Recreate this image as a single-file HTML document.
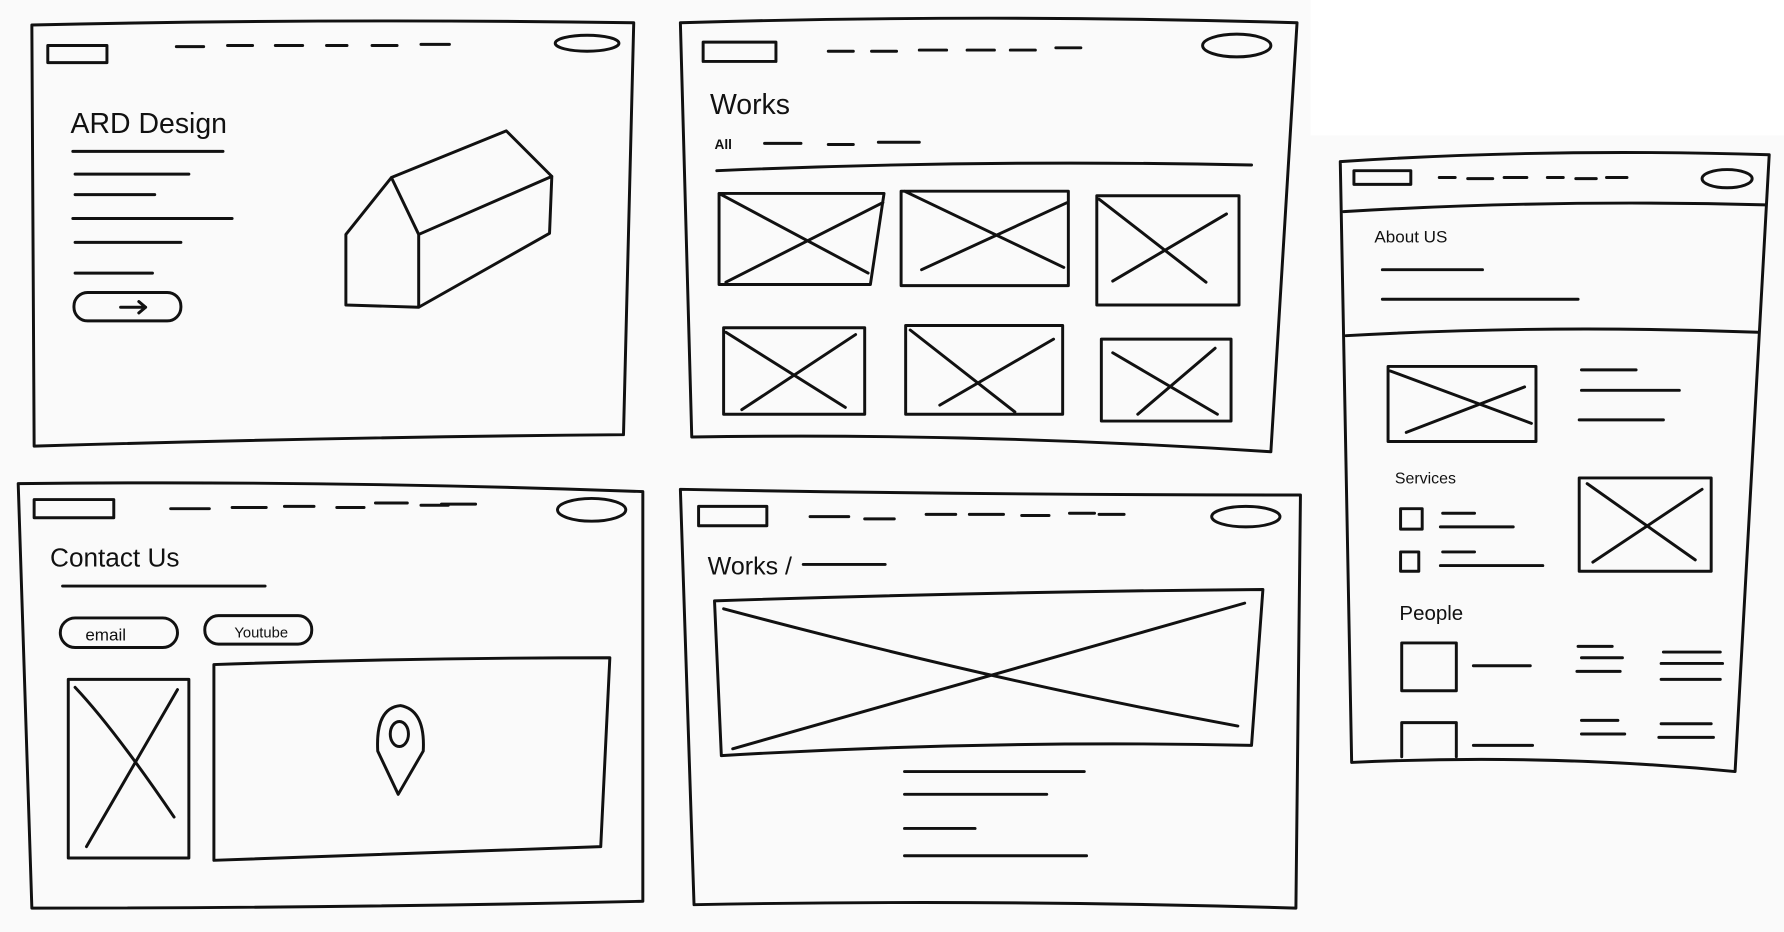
<!DOCTYPE html>
<html><head><meta charset="utf-8"><style>
html,body{margin:0;padding:0;background:#fafafa;}
svg{display:block}
text{font-family:"Liberation Sans",sans-serif;fill:#111}
</style></head><body>
<svg width="1784" height="932" viewBox="0 0 1568 819" preserveAspectRatio="none">
<rect x="0" y="0" width="1568" height="819" fill="#fafafa"/>
<rect x="1152" y="0" width="416" height="119" fill="#fff"/>
<g fill="none" stroke="#111" stroke-width="2.6" stroke-linecap="round" stroke-linejoin="round">
<!-- Panel 1 -->
<path d="M28 22 Q290 16 557 20 L548 382 Q300 384 30 392 Z"/>
<rect x="42" y="40" width="52" height="15"/>
<path d="M155 41h24M200 40h22M242 40h24M287 40h18M327 40h22M370 39h25"/>
<ellipse cx="516" cy="38" rx="28" ry="7"/>
<path d="M64 133h132M66 153h100M66 171h70M64 192h140M66 213h93M66 240h68"/>
<rect x="65" y="257" width="94" height="25" rx="12"/>
<path d="M106 270h22M122 265l6 5-6 5"/>
<path d="M304 206 L344 156 L368 206 L368 270 L304 268 Z M344 156 L445 115 L485 155 L368 206 M485 155 L483 205 L368 270"/>
<!-- Panel 2 -->
<path d="M598 20 Q870 12 1140 20 L1117 397 Q860 380 608 384 Z"/>
<rect x="618" y="37" width="64" height="17"/>
<path d="M728 45h22M766 45h22M808 44h24M850 44h24M888 44h22M928 42h22"/>
<ellipse cx="1087" cy="40" rx="30" ry="10"/>
<path d="M672 126h32M728 127h22M772 125h36M630 150Q860 140 1100 145"/>
<path d="M632 170h145l-12 80h-133Z M632 170L763 240M638 248L776 178"/>
<path d="M792 168h147v83h-147Z M795 168L935 235M810 237L938 178"/>
<path d="M964 172h125v96h-125Z M966 175L1060 248M978 247L1078 188"/>
<path d="M636 288h124v76h-124Z M638 292L743 358M652 360L752 294"/>
<path d="M796 286h138v78h-138Z M800 290L892 362M826 356L926 298"/>
<path d="M968 298h114v72h-114Z M978 310L1070 364M1000 364L1068 306"/>
<!-- Panel 3 -->
<path d="M1178 142 Q1360 130 1555 136 L1525 678 Q1360 662 1188 670 Z"/>
<path d="M1181 186 Q1360 175 1552 180 M1183 295 Q1360 285 1545 292"/>
<rect x="1190" y="150" width="50" height="12"/>
<path d="M1265 156h14M1290 157h22M1322 156h20M1360 156h14M1385 157h18M1412 156h18"/>
<ellipse cx="1518" cy="157" rx="22" ry="8"/>
<path d="M1215 237h88M1215 263h172"/>
<path d="M1220 322h130v66h-130Z M1222 326L1346 372M1236 380L1340 340"/>
<path d="M1390 325h48M1390 343h86M1388 369h74"/>
<path d="M1388 420h116v82h-116Z M1395 425L1490 492M1400 494L1496 430"/>
<rect x="1231" y="447" width="19" height="18"/><rect x="1231" y="485" width="16" height="17"/>
<path d="M1268 451h28M1266 463h64M1268 485h28M1266 497h90"/>
<rect x="1232" y="565" width="48" height="42"/>
<path d="M1232 635h48v30M1232 635v30"/>
<path d="M1295 585h50M1387 568h30M1390 578h36M1386 590h38M1462 573h50M1460 583h54M1460 597h52M1390 633h32M1390 645h38M1460 636h44M1458 648h48M1295 655h52"/>
<!-- Panel 4 -->
<path d="M16 425 Q290 422 565 432 L565 792 Q300 798 28 798 Z"/>
<rect x="30" y="439" width="70" height="16"/>
<path d="M150 447h34M204 446h30M250 445h26M296 446h24M330 442h28M370 444h24M388 443h30"/>
<ellipse cx="520" cy="448" rx="30" ry="10"/>
<path d="M55 515h178"/>
<rect x="53" y="543" width="103" height="26" rx="13"/>
<rect x="180" y="541" width="94" height="25" rx="12"/>
<path d="M60 597h106v157h-106Z M66 604Q100 640 153 718M76 744L156 606"/>
<path d="M188 584 Q360 578 536 578 L528 744 L188 756 Z"/>
<path d="M350 698 L332 660 Q330 622 352 620 Q374 624 372 660 Z"/>
<ellipse cx="351" cy="645" rx="8" ry="11"/>
<!-- Panel 5 -->
<path d="M598 430 Q870 435 1143 435 L1139 798 Q870 790 610 795 Z"/>
<rect x="614" y="445" width="60" height="17"/>
<path d="M712 454h34M760 456h26M814 452h26M852 452h30M898 453h24M940 451h22M966 452h22"/>
<ellipse cx="1095" cy="454" rx="30" ry="9"/>
<path d="M706 496h72"/>
<path d="M628 528 Q870 520 1110 518 L1100 655 Q870 650 634 664 Z"/>
<path d="M636 535 Q880 600 1088 638 M644 658 Q880 590 1094 530"/>
<path d="M795 678h158M795 698h125M795 728h62M795 752h160"/>
</g>
<g style="font-family:'Liberation Sans',sans-serif" fill="#111">
<text x="62" y="117" font-size="25">ARD Design</text>
<text x="624" y="100" font-size="25">Works</text>
<text x="628" y="131" font-size="12" font-weight="bold">All</text>
<text x="1208" y="213" font-size="15">About US</text>
<text x="1226" y="425" font-size="14">Services</text>
<text x="1230" y="545" font-size="18">People</text>
<text x="44" y="498" font-size="23">Contact Us</text>
<text x="75" y="563" font-size="15">email</text>
<text x="206" y="560" font-size="13">Youtube</text>
<text x="622" y="505" font-size="22">Works /</text>
</g>
</svg>
</body></html>
